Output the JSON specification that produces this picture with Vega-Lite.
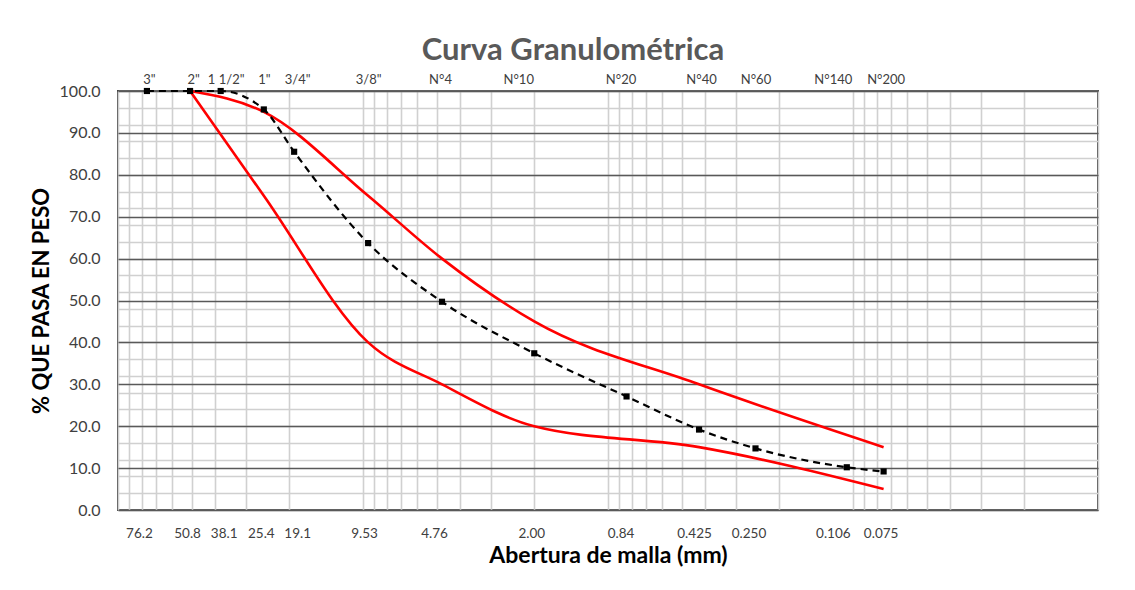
{
  "$schema": "https://vega.github.io/schema/vega-lite/v6.json",
  "width": 980,
  "height": 419,
  "autosize": "none",
  "padding": {"left": 118, "top": 91, "right": 37, "bottom": 80},
  "background": "white",
  "title": {
    "text": "Curva Granulométrica",
    "font": "Lato",
    "fontSize": 31,
    "fontWeight": "bold",
    "color": "#595959",
    "anchor": "middle",
    "frame": "group",
    "dx": -35,
    "offset": 6
  },
  "config": {
    "font": "Lato",
    "view": {"stroke": "#404040", "strokeWidth": 2}
  },
  "datasets": {
    "curva": [
      {"abertura": 76.2, "pasa": 100.0},
      {"abertura": 50.8, "pasa": 100.0},
      {"abertura": 38.1, "pasa": 100.0},
      {"abertura": 25.4, "pasa": 95.6},
      {"abertura": 19.1, "pasa": 85.5},
      {"abertura": 9.53, "pasa": 63.7},
      {"abertura": 4.76, "pasa": 49.7},
      {"abertura": 2.0, "pasa": 37.4},
      {"abertura": 0.84, "pasa": 27.1},
      {"abertura": 0.425, "pasa": 19.2},
      {"abertura": 0.25, "pasa": 14.7},
      {"abertura": 0.106, "pasa": 10.2},
      {"abertura": 0.075, "pasa": 9.2}
    ],
    "limites": [
      {"limite": "superior", "abertura": 50.8, "pasa": 100},
      {"limite": "superior", "abertura": 25.4, "pasa": 95},
      {"limite": "superior", "abertura": 9.53, "pasa": 75},
      {"limite": "superior", "abertura": 4.76, "pasa": 60},
      {"limite": "superior", "abertura": 2.0, "pasa": 45},
      {"limite": "superior", "abertura": 0.425, "pasa": 30},
      {"limite": "superior", "abertura": 0.075, "pasa": 15},
      {"limite": "inferior", "abertura": 50.8, "pasa": 100},
      {"limite": "inferior", "abertura": 25.4, "pasa": 75},
      {"limite": "inferior", "abertura": 9.53, "pasa": 40},
      {"limite": "inferior", "abertura": 4.76, "pasa": 30},
      {"limite": "inferior", "abertura": 2.0, "pasa": 20},
      {"limite": "inferior", "abertura": 0.425, "pasa": 15},
      {"limite": "inferior", "abertura": 0.075, "pasa": 5}
    ]
  },
  "resolve": {"axis": {"x": "independent", "y": "independent"}},
  "layer": [
    {
      "data": {"name": "limites"},
      "mark": {"type": "line", "color": "#ff0000", "strokeWidth": 2.6, "interpolate": "monotone"},
      "encoding": {
        "x": {
          "field": "abertura",
          "type": "quantitative",
          "scale": {"type": "log", "domain": [0.01, 100], "reverse": true, "nice": false},
          "axis": {
            "orient": "bottom",
            "title": null,
            "labels": false,
            "ticks": false,
            "domain": false,
            "grid": true,
            "gridColor": "#d0d0d0",
            "gridWidth": 1.6,
            "values": [0.01, 0.02, 0.03, 0.04, 0.05, 0.06, 0.07, 0.08, 0.09,
                       0.1, 0.2, 0.3, 0.4, 0.5, 0.6, 0.7, 0.8, 0.9,
                       1, 2, 3, 4, 5, 6, 7, 8, 9,
                       10, 20, 30, 40, 50, 60, 70, 80, 90, 100]
          }
        },
        "y": {
          "field": "pasa",
          "type": "quantitative",
          "scale": {"domain": [0, 100], "nice": false},
          "axis": {
            "orient": "left",
            "title": null,
            "labels": false,
            "ticks": false,
            "domain": false,
            "grid": true,
            "gridColor": "#d0d0d0",
            "gridWidth": 1.6,
            "values": [0, 4, 8, 12, 16, 20, 24, 28, 32, 36, 40, 44, 48, 52, 56, 60, 64, 68, 72, 76, 80, 84, 88, 92, 96, 100]
          }
        },
        "detail": {"field": "limite"},
        "order": {"field": "abertura", "sort": "descending"}
      }
    },
    {
      "data": {"name": "curva"},
      "mark": {"type": "line", "color": "#000000", "strokeWidth": 2.2, "strokeDash": [7, 5], "interpolate": "monotone"},
      "encoding": {
        "x": {
          "field": "abertura",
          "type": "quantitative",
          "axis": {
            "orient": "bottom",
            "title": "Abertura de malla (mm)",
            "titleFont": "Lato",
            "titleFontSize": 23,
            "titleFontWeight": "bold",
            "titleColor": "#000000",
            "titlePadding": 5,
            "labelFont": "Lato",
            "labelFontSize": 13.5,
            "labelColor": "#404040",
            "labelPadding": 16,
            "labelFlush": false,
            "labelOverlap": false,
            "labelOffset": {"expr": "datum.value == 76.2 ? -8 : datum.value == 4.76 ? -8 : datum.value == 9.53 ? -4 : datum.value == 0.84 ? -6 : datum.value == 0.425 ? -5 : datum.value == 0.25 ? -7 : datum.value == 0.106 ? -14 : datum.value == 38.1 ? 3 : datum.value == 19.1 ? 3 : datum.value == 0.075 ? -3 : datum.value == 2 ? -3 : datum.value == 50.8 ? -3 : datum.value == 25.4 ? -3 : 0"},
            "ticks": false,
            "domain": false,
            "grid": false,
            "values": [76.2, 50.8, 38.1, 25.4, 19.1, 9.53, 4.76, 2.0, 0.84, 0.425, 0.25, 0.106, 0.075],
            "labelExpr": "datum.value == 2 ? '2.00' : datum.value == 0.25 ? '0.250' : datum.value == 76.2 ? '76.2' : datum.value == 50.8 ? '50.8' : datum.value == 38.1 ? '38.1' : datum.value == 25.4 ? '25.4' : datum.value == 19.1 ? '19.1' : datum.value == 9.53 ? '9.53' : datum.value == 4.76 ? '4.76' : datum.value == 0.84 ? '0.84' : datum.value == 0.425 ? '0.425' : datum.value == 0.106 ? '0.106' : '0.075'"
          }
        },
        "y": {
          "field": "pasa",
          "type": "quantitative",
          "axis": {
            "orient": "left",
            "title": "% QUE PASA EN PESO",
            "titleFont": "Lato",
            "titleFontSize": 22,
            "titleFontWeight": "bold",
            "titleColor": "#000000",
            "titlePadding": 6,
            "labelFont": "Lato",
            "labelFontSize": 16,
            "labelColor": "#404040",
            "labelPadding": 18,
            "labelFlush": false,
            "format": ".1f",
            "ticks": false,
            "domain": false,
            "grid": true,
            "gridColor": "#595959",
            "gridWidth": 1.6,
            "values": [0, 10, 20, 30, 40, 50, 60, 70, 80, 90, 100]
          }
        },
        "order": {"field": "abertura", "sort": "descending"}
      }
    },
    {
      "data": {"name": "curva"},
      "mark": {"type": "point", "shape": "square", "filled": true, "color": "#000000", "size": 38, "opacity": 1},
      "encoding": {
        "x": {
          "field": "abertura",
          "type": "quantitative",
          "axis": {
            "orient": "top",
            "title": null,
            "labelFont": "Lato",
            "labelFontSize": 13,
            "labelColor": "#404040",
            "labelPadding": 5,
            "labelFlush": false,
            "labelOverlap": false,
            "labelOffset": {"expr": "datum.value == 2 ? -16 : datum.value == 0.106 ? -14 : datum.value == 0.84 ? -6 : datum.value == 38.1 ? 5 : datum.value == 50.8 ? 3 : datum.value == 19.1 ? 3 : datum.value == 76.2 ? 2 : datum.value == 4.76 ? -2 : datum.value == 0.425 ? 2 : datum.value == 0.075 ? 2 : 0"},
            "ticks": false,
            "domain": false,
            "grid": false,
            "values": [76.2, 50.8, 38.1, 25.4, 19.1, 9.53, 4.76, 2.0, 0.84, 0.425, 0.25, 0.106, 0.075],
            "labelExpr": "datum.value == 76.2 ? '3\"' : datum.value == 50.8 ? '2\"' : datum.value == 38.1 ? '1 1/2\"' : datum.value == 25.4 ? '1\"' : datum.value == 19.1 ? '3/4\"' : datum.value == 9.53 ? '3/8\"' : datum.value == 4.76 ? 'N°4' : datum.value == 2 ? 'N°10' : datum.value == 0.84 ? 'N°20' : datum.value == 0.425 ? 'N°40' : datum.value == 0.25 ? 'N°60' : datum.value == 0.106 ? 'N°140' : 'N°200'"
          }
        },
        "y": {"field": "pasa", "type": "quantitative", "axis": null}
      }
    }
  ]
}
